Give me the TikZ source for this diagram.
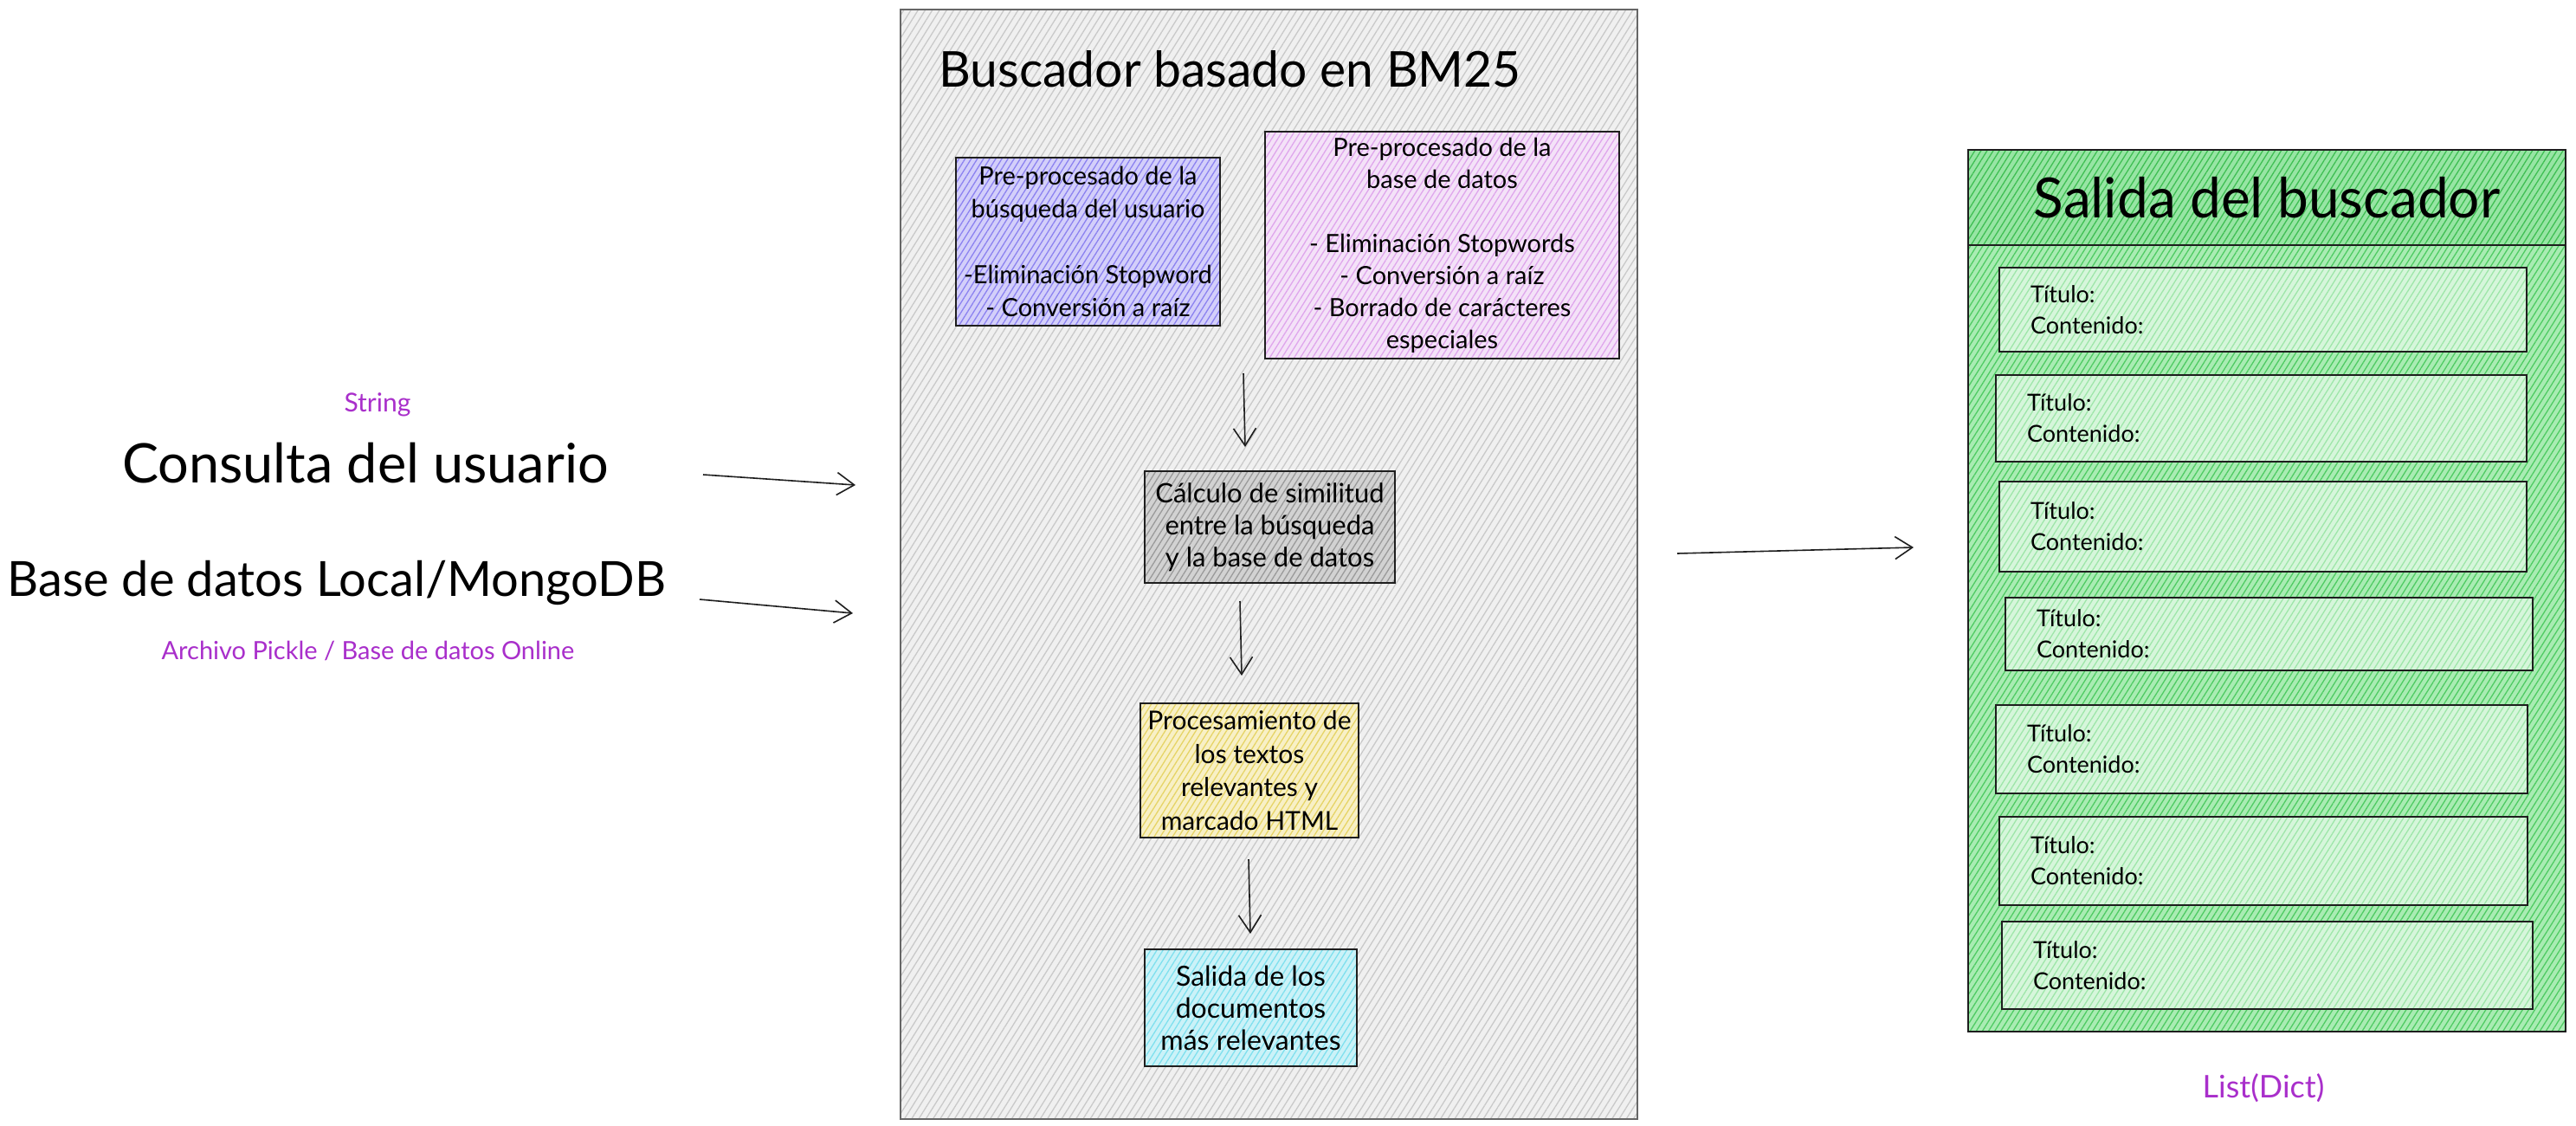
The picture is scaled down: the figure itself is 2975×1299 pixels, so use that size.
\documentclass[tikz,border=0pt]{standalone}
\usepackage{fontspec}
\setmainfont{Lato}
\usetikzlibrary{arrows.meta,patterns.meta}
\definecolor{purp}{HTML}{A92FCB}
\definecolor{ink}{HTML}{1E1E1E}
\definecolor{grayF}{HTML}{F0F0F0}\definecolor{grayL}{HTML}{C9C9C9}
\definecolor{blueF}{HTML}{D3CFFA}\definecolor{blueL}{HTML}{8C82F0}
\definecolor{pinkF}{HTML}{F4E2F8}\definecolor{pinkL}{HTML}{DFA6EC}
\definecolor{simF}{HTML}{D2D2D2}\definecolor{simL}{HTML}{9A9A9A}
\definecolor{yelF}{HTML}{F8F0C6}\definecolor{yelL}{HTML}{E6D466}
\definecolor{cyaF}{HTML}{CBF2F8}\definecolor{cyaL}{HTML}{7FE0EE}
\definecolor{grnF}{HTML}{A9ECB3}\definecolor{grnL}{HTML}{4FCB63}
\definecolor{hdF}{HTML}{97E5A4}\definecolor{hdL}{HTML}{3FBF53}
\definecolor{itF}{HTML}{D6F6DB}\definecolor{itL}{HTML}{9EE6A9}
\begin{document}
\begin{tikzpicture}[x=1pt,y=-1pt,
  hatch/.style n args={3}{preaction={fill=#1},
    pattern={Lines[angle=58,distance=#3,line width=1.3pt]}, pattern color=#2},
  box/.style={draw=ink, line width=1.8pt, inner sep=0pt, align=center},
  arr/.style={draw=ink, line width=1.6pt,
    -{Straight Barb[length=20pt,width=26pt,line width=1.6pt]}},
  big/.style={font=\fontsize{#1}{#1}\selectfont},
  small/.style={font=\fontsize{#1}{#1}\selectfont, text=purp},
  item/.style={box, line width=1.6pt, hatch={itF}{itL}{6pt},
    text width=#1, align=left, font=\fontsize{27}{36}\selectfont},
]
\useasboundingbox (0,0) rectangle (2975,1299);
\fill[white] (0,0) rectangle (2975,1299);

% ---------- left inputs ----------
\node[small=30] (str) at (436,467) {String};
\node[big=63] (cons) at (422,535) {Consulta del usuario};
\node[big=56] (bd) at (389,673) {Base de datos Local/MongoDB};
\node[small=29] (arch) at (425,751) {Archivo Pickle / Base de datos Online};

% ---------- main container ----------
\node[box, draw=black!60, line width=1.4pt, hatch={grayF}{grayL}{7pt},
  minimum width=851pt, minimum height=1281pt] (main) at (1465.5,651.5) {};
\node[anchor=west, font=\fontsize{57}{62}\selectfont] (title) at (1081,80)
  {Buscador basado en BM25};

\node[box, hatch={blueF}{blueL}{6pt},
  minimum width=305pt, minimum height=194pt,
  font=\fontsize{29}{38}\selectfont] (pq) at (1256.5,279)
  {Pre-procesado de la\\búsqueda del usuario\\\mbox{}\\-Eliminación Stopword\\- Conversión a raíz};

\node[box, hatch={pinkF}{pinkL}{6pt},
  minimum width=409pt, minimum height=262pt,
  font=\fontsize{29}{37}\selectfont] (pdb) at (1665.5,283)
  {Pre-procesado de la\\base de datos\\\mbox{}\\- Eliminación Stopwords\\- Conversión a raíz\\- Borrado de carácteres\\especiales};

\node[box, hatch={simF}{simL}{6pt},
  minimum width=289pt, minimum height=129pt,
  font=\fontsize{31}{37}\selectfont] (sim) at (1466.5,608.5)
  {Cálculo de similitud\\entre la búsqueda\\y la base de datos};

\node[box, hatch={yelF}{yelL}{6pt},
  minimum width=252pt, minimum height=155pt,
  font=\fontsize{30}{38.5}\selectfont] (proc) at (1443,889.5)
  {Procesamiento de\\los textos\\relevantes y\\marcado HTML};

\node[box, hatch={cyaF}{cyaL}{6pt},
  minimum width=245pt, minimum height=135pt,
  font=\fontsize{32}{37}\selectfont] (outd) at (1444.5,1163.5)
  {Salida de los\\documentos\\más relevantes};

% ---------- output panel ----------
\node[box, hatch={grnF}{grnL}{6pt},
  minimum width=690pt, minimum height=1018pt] (panel) at (2618,682) {};
\node[box, hatch={hdF}{hdL}{6pt},
  minimum width=690pt, minimum height=110pt,
  font=\fontsize{64}{66}\selectfont] (head) at (2618,228) {Salida del buscador};

\foreach \cx/\cy/\w/\h [count=\i] in {2613.5/357.5/609/97, 2611.5/483/613/100,
    2613.5/608/609/104, 2620.5/732/609/84, 2612/865/614/102,
    2614/994/610/102, 2618.5/1114.5/613/101}{
  \node[item={\w pt - 72pt}, minimum width=\w pt, minimum height=\h pt]
    (it\i) at (\cx,\cy) {Título:\\Contenido:};
}
\node[small=36] (ld) at (2614,1256) {List(Dict)};

% ---------- connectors ----------
\coordinate (a1s) at (812,548);  \coordinate (a1e) at (988,560);
\coordinate (a2s) at (808,692);  \coordinate (a2e) at (985,708);
\coordinate (v1s) at (1436,431); \coordinate (v1e) at (1438,516);
\coordinate (v2s) at (1432,694); \coordinate (v2e) at (1434,780);
\coordinate (v3s) at (1442,992); \coordinate (v3e) at (1444,1078);
\coordinate (os) at (1937,639);  \coordinate (oe) at (2210,632);
\draw[arr] (a1s) -- (a1e);
\draw[arr] (a2s) -- (a2e);
\draw[arr] (v1s) -- (v1e);
\draw[arr] (v2s) -- (v2e);
\draw[arr] (v3s) -- (v3e);
\draw[arr] (os) -- (oe);
\end{tikzpicture}
\end{document}
